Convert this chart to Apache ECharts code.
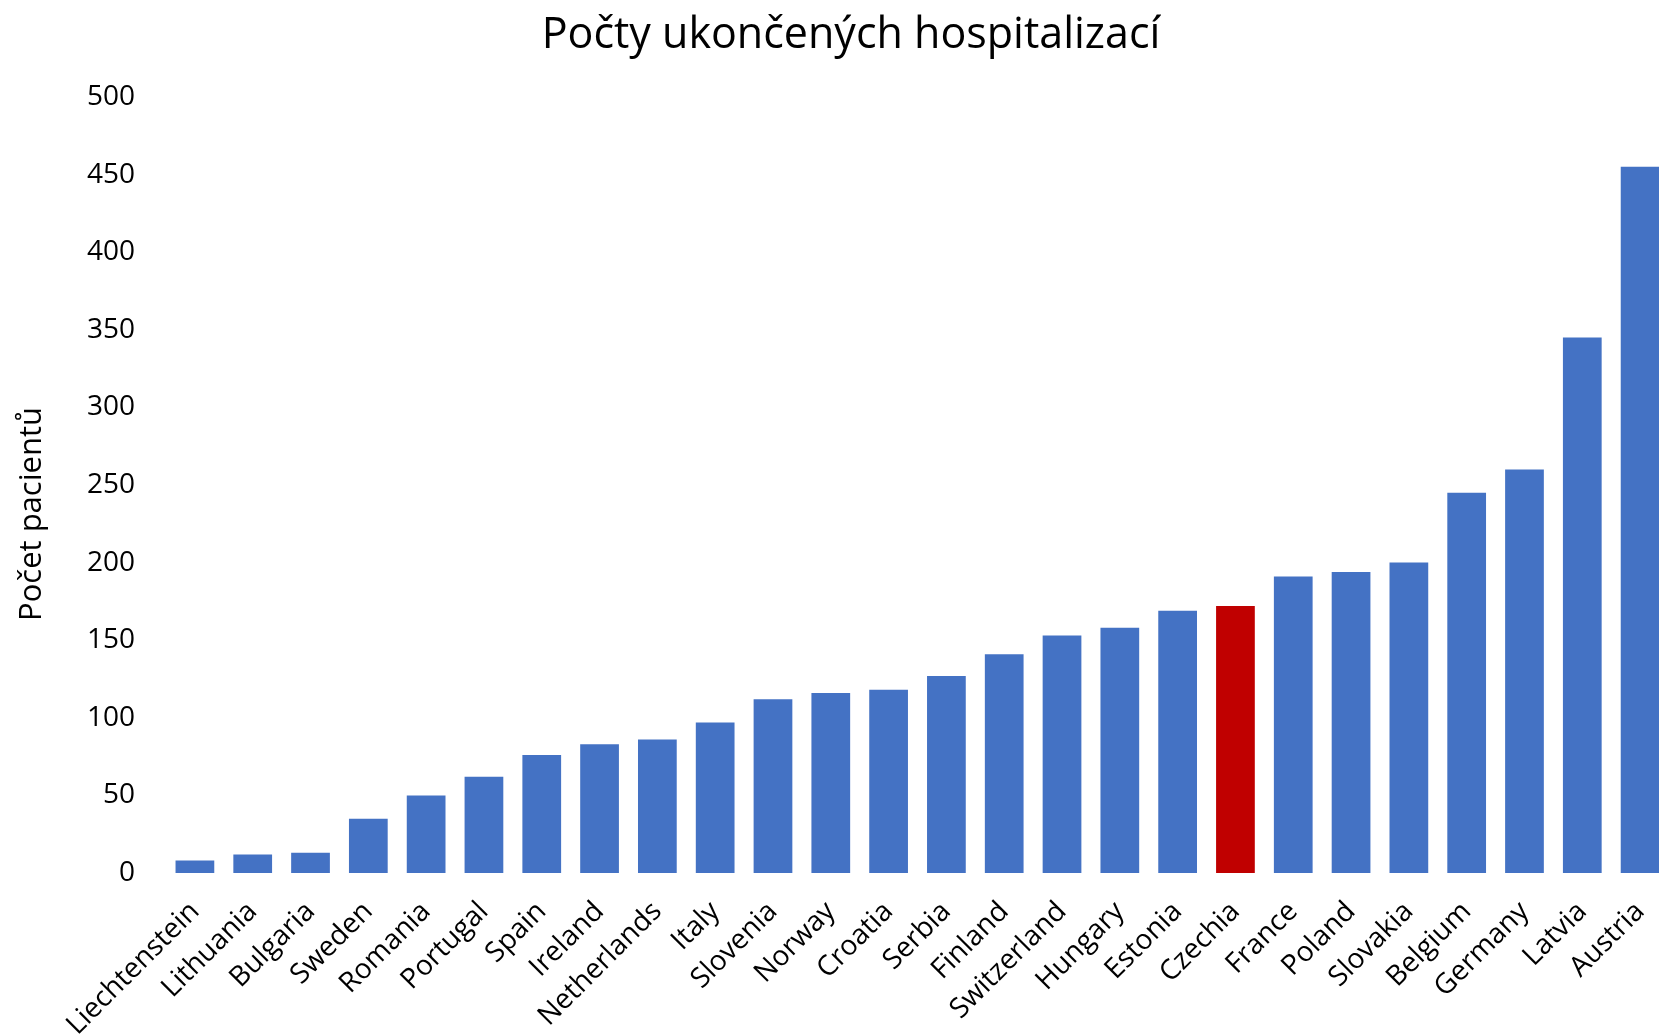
<!DOCTYPE html>
<html>
<head>
<meta charset="utf-8">
<style>
  html, body { margin: 0; padding: 0; background: #fff; }
  #chart { width: 1659px; height: 1036px; }
</style>
<script src="https://cdn.jsdelivr.net/npm/echarts@6/dist/echarts.min.js"></script>
</head>
<body>
<div id="chart"></div>
<script>
var countries = ['Liechtenstein', 'Lithuania', 'Bulgaria', 'Sweden', 'Romania', 'Portugal', 'Spain',
  'Ireland', 'Netherlands', 'Italy', 'Slovenia', 'Norway', 'Croatia', 'Serbia', 'Finland',
  'Switzerland', 'Hungary', 'Estonia', 'Czechia', 'France', 'Poland', 'Slovakia', 'Belgium',
  'Germany', 'Latvia', 'Austria']
var patients = [8, 12, 13, 35, 50, 62, 76, 83, 86, 97, 112, 116, 118, 127, 141,
  153, 158, 169, 172, 191, 194, 200, 245, 260, 345, 455]
var highlight = 'Czechia'

var font = 'Open Sans'

var chart = echarts.init(document.getElementById('chart'))

chart.setOption({
  animation: false,
  backgroundColor: '#fff',
  textStyle: { fontFamily: font },
  title: {
    text: 'Počty ukončených hospitalizací',
    left: 846,
    textAlign: 'center',
    top: 9,
    textStyle: {
      fontFamily: font,
      fontSize: 43,
      fontWeight: 'normal',
      color: '#000'
    }
  },
  grid: {
    left: 166,
    right: -10,
    top: 97,
    bottom: 163,
    containLabel: false,
    outerBoundsMode: 'none'
  },
  graphic: [{
    type: 'text',
    x: 32,
    y: 514,
    rotation: Math.PI / 2,
    style: {
      text: 'Počet pacientů',
      fontFamily: font,
      fontSize: 31,
      fill: '#000',
      textAlign: 'center',
      textVerticalAlign: 'middle'
    }
  }],
  xAxis: {
    type: 'category',
    data: countries,
    axisLine: { show: false },
    axisTick: { show: false },
    axisLabel: {
      interval: 0,
      rotate: 45,
      margin: 34,
      fontFamily: font,
      fontSize: 28,
      color: '#000'
    }
  },
  yAxis: {
    type: 'value',
    min: 0,
    max: 500,
    interval: 50,
    axisLine: { show: false },
    axisTick: { show: false },
    splitLine: { show: false },
    axisLabel: {
      margin: 31,
      fontFamily: font,
      fontSize: 28,
      color: '#000'
    }
  },
  series: [{
    type: 'bar',
    barCategoryGap: '33%',
    data: patients.map(function(v, i) {
      return {
        value: v,
        itemStyle: { color: countries[i] === highlight ? '#C00000' : '#4472C4' }
      }
    })
  }]
})
</script>
</body>
</html>
